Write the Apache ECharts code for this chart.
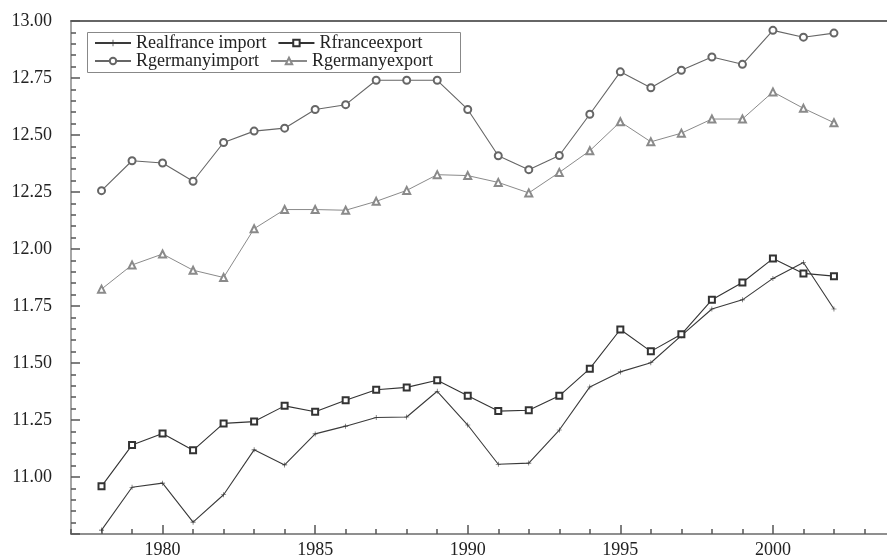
<!DOCTYPE html>
<html>
<head>
<meta charset="utf-8">
<script src="https://cdn.jsdelivr.net/npm/echarts@6/dist/echarts.min.js"></script>
<style>
html,body{margin:0;padding:0;background:#fff;overflow:hidden;width:887px;height:559px;}
#c{width:910px;height:559px;}
</style>
</head>
<body>
<div id="c"></div>
<script>
var years = [1978,1979,1980,1981,1982,1983,1984,1985,1986,1987,1988,1989,1990,1991,1992,1993,1994,1995,1996,1997,1998,1999,2000,2001,2002];
var realfranceImport = [10.767,10.955,10.973,10.802,10.922,11.119,11.053,11.189,11.223,11.261,11.263,11.376,11.228,11.056,11.061,11.206,11.395,11.461,11.501,11.620,11.737,11.777,11.871,11.941,11.737];
var rfranceExport = [10.959,11.140,11.191,11.117,11.235,11.243,11.312,11.286,11.337,11.383,11.393,11.424,11.356,11.289,11.293,11.356,11.475,11.647,11.551,11.626,11.777,11.853,11.958,11.893,11.881];
var rgermanyImport = [12.256,12.387,12.377,12.297,12.467,12.517,12.530,12.612,12.633,12.740,12.740,12.740,12.612,12.409,12.348,12.410,12.591,12.777,12.707,12.784,12.842,12.810,12.959,12.929,12.947];
var rgermanyExport = [11.824,11.930,11.978,11.907,11.875,12.089,12.173,12.173,12.170,12.209,12.257,12.326,12.322,12.292,12.246,12.336,12.431,12.558,12.470,12.508,12.570,12.570,12.689,12.617,12.554];
var xMajorTicks = [1980,1985,1990,1995,2000];
var seriesNames = ['Realfrance import','Rfranceexport','Rgermanyimport','Rgermanyexport'];

function pairs(vals){ return years.map(function(y,i){ return [y, vals[i]]; }); }

var font = 'Liberation Serif, Times New Roman, serif';
var plusPath = 'path://M0,4.4H10V5.6H0Z M4.4,0H5.6V10H4.4Z';
var tickColor = '#555';
var axisColor = '#888';

var chart = echarts.init(document.getElementById('c'));
chart.setOption({
  animation: false,
  backgroundColor: '#fff',
  grid: {left: 71, top: 21, right: 15, bottom: 23},
  graphic: [{
    type: 'rect', left: 87, top: 32, z: 10,
    shape: {width: 373, height: 40},
    style: {fill: 'rgba(0,0,0,0)', stroke: '#888', lineWidth: 1}
  }],
  legend: [{
    left: 94, top: 34, padding: 0, itemGap: 11, itemWidth: 36, itemHeight: 8,
    data: [seriesNames[0], seriesNames[1]],
    textStyle: {fontFamily: font, fontSize: 18, color: '#222', width: 140}
  },{
    left: 94, top: 52, padding: 0, itemGap: 11, itemWidth: 36, itemHeight: 8,
    data: [seriesNames[2], seriesNames[3]],
    textStyle: {fontFamily: font, fontSize: 18, color: '#222', width: 140}
  }],
  xAxis: [{
    type: 'value', min: 1977, max: 2004, interval: 1, position: 'bottom',
    axisLine: {show: true, lineStyle: {color: axisColor, width: 1.5}},
    axisTick: {show: true, inside: true, length: 5, lineStyle: {color: tickColor, width: 1.5}},
    axisLabel: {show: true, fontFamily: font, fontSize: 18, color: '#222', margin: 7,
      formatter: function(v){ return v % 5 === 0 ? String(v) : ''; }},
    splitLine: {show: false}
  },{
    type: 'value', min: 1977, max: 2004, position: 'bottom',
    axisLine: {show: true, lineStyle: {color: axisColor, width: 1.5}},
    axisTick: {show: true, inside: true, length: 9, customValues: xMajorTicks, lineStyle: {color: tickColor, width: 1.5}},
    axisLabel: {show: false},
    splitLine: {show: false}
  },{
    type: 'value', min: 1977, max: 2004, position: 'top',
    axisLine: {show: true, lineStyle: {color: '#666', width: 1.8}},
    axisTick: {show: false},
    axisLabel: {show: false},
    splitLine: {show: false}
  }],
  yAxis: {
    type: 'value', min: 10.75, max: 13.0, interval: 0.25,
    axisLine: {show: true, lineStyle: {color: axisColor, width: 1.5}},
    axisTick: {show: true, inside: true, length: 9, lineStyle: {color: tickColor, width: 1.5}},
    minorTick: {show: true, splitNumber: 5, length: 5, lineStyle: {color: tickColor, width: 1.5}},
    axisLabel: {showMinLabel: false, fontFamily: font, fontSize: 18, color: '#222', margin: 19,
      formatter: function(v){ return v.toFixed(2); }},
    splitLine: {show: false}
  },
  series: [{
    name: seriesNames[0], type: 'line', data: pairs(realfranceImport),
    symbol: plusPath, symbolSize: 5,
    lineStyle: {color: '#3a3a3a', width: 1.1},
    itemStyle: {color: '#3a3a3a'}
  },{
    name: seriesNames[1], type: 'line', data: pairs(rfranceExport),
    symbol: 'emptyRect', symbolSize: 6,
    lineStyle: {color: '#333', width: 1.1},
    itemStyle: {color: '#333', borderWidth: 1}
  },{
    name: seriesNames[2], type: 'line', data: pairs(rgermanyImport),
    symbol: 'emptyCircle', symbolSize: 7,
    lineStyle: {color: '#666', width: 1.1},
    itemStyle: {color: '#666', borderWidth: 1}
  },{
    name: seriesNames[3], type: 'line', data: pairs(rgermanyExport),
    symbol: 'emptyTriangle', symbolSize: 7,
    lineStyle: {color: '#8a8a8a', width: 1},
    itemStyle: {color: '#8a8a8a', borderWidth: 1}
  }]
});
</script>
</body>
</html>
